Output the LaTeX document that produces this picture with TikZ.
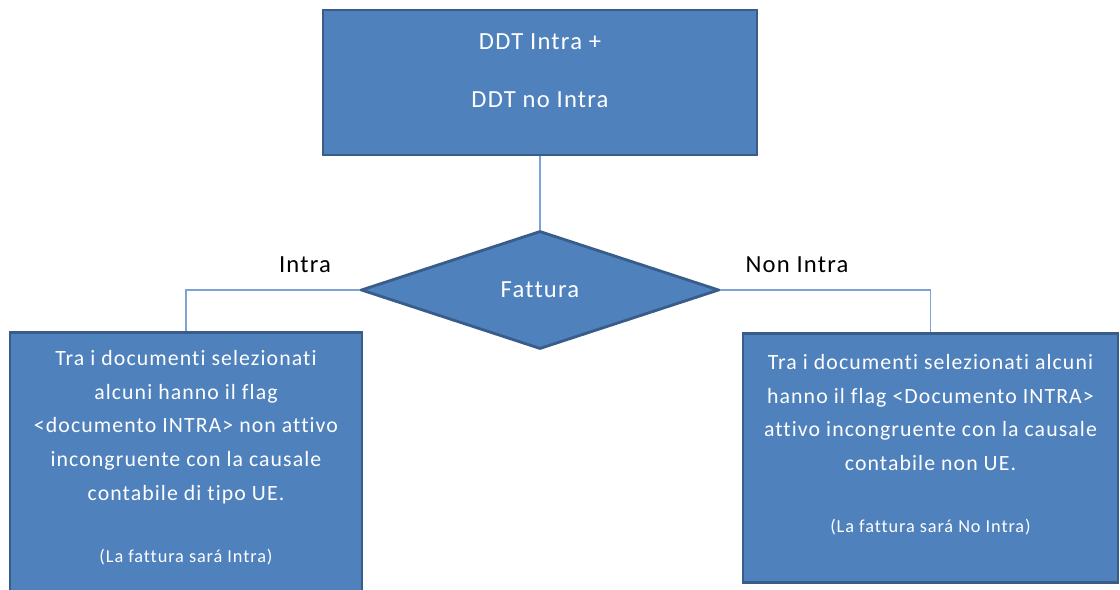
\documentclass[tikz,border=0pt]{standalone}
\usepackage{fontspec}
\setmainfont{Carlito}[Ligatures=NoCommon,LetterSpace=5]
\usetikzlibrary{shapes.geometric,positioning}
\definecolor{boxfill}{HTML}{4F81BD}
\definecolor{boxedge}{HTML}{385D8A}
\definecolor{linkcol}{HTML}{7BA3D6}
\tikzset{
  procbox/.style={rectangle,draw=boxedge,fill=boxfill,line width=2pt,inner sep=0pt},
  decision/.style={diamond,draw=boxedge,fill=boxfill,line width=2pt,inner sep=0pt,
    text=white,font=\fontsize{17.5}{20}\selectfont},
  boxtext/.style={align=center,text=white,inner sep=0pt,font=\fontsize{15.5}{24}\selectfont},
  branch/.style={font=\fontsize{17.5}{20}\selectfont},
  link/.style={draw=linkcol,line width=1.3pt}}
\begin{document}
\begin{tikzpicture}[x=0.025cm,y=-0.025cm]
  \clip (0,0) rectangle (1120,590);
  \node[procbox,minimum width=10.85cm,minimum height=3.625cm] (ddt) at (540,82.5) {};
  \node[boxtext,font=\fontsize{17.5}{41}\selectfont] (ddttext) at (540,71) {DDT Intra +\\DDT no Intra};
  \node[decision,minimum width=8.95cm,minimum height=2.95cm] (fattura) at (540,290) {Fattura};
  \node[procbox,minimum width=8.8cm,minimum height=7cm,anchor=north] (intrabox) at (186,331) {};
  \node[procbox,minimum width=9.375cm,minimum height=6.225cm,anchor=north] (nonintrabox) at (930.5,332) {};
  % box texts
  \node[boxtext,anchor=north] (intratext) at (186,350) {Tra i documenti selezionati\\
    alcuni hanno il flag\\
    <documento INTRA> non attivo\\
    incongruente con la causale\\
    contabile di tipo UE.\\[20pt]
    {\fontsize{13}{15}\selectfont (La fattura sará Intra)}};
  \node[boxtext,anchor=north] (nonintratext) at (930.5,354) {Tra i documenti selezionati alcuni\\
    hanno il flag <Documento INTRA>\\
    attivo incongruente con la causale\\
    contabile non UE.\\[20pt]
    {\fontsize{13}{15}\selectfont (La fattura sará No Intra)}};
  % branch labels
  \node[branch] (intralab) at (305,265) {Intra};
  \node[branch] (nonintralab) at (797,265) {Non Intra};
  \draw[link] (ddt.south) -- (fattura.north);
  \draw[link] (fattura.west) -| (intrabox.north);
  \draw[link] (fattura.east) -| (nonintrabox.north);
\end{tikzpicture}
\end{document}
